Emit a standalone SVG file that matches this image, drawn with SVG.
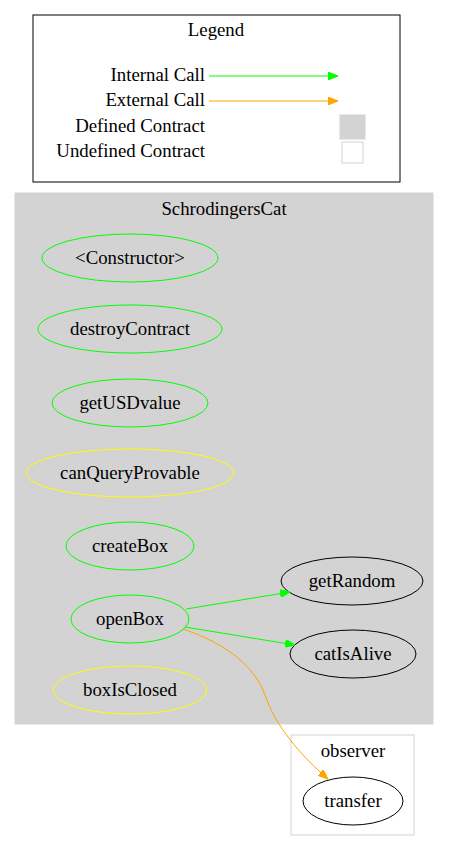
<svg xmlns="http://www.w3.org/2000/svg" width="450" height="852" viewBox="0 0 450 852">
<style>
text{font-family:"Times New Roman","Liberation Serif","DejaVu Serif",serif;font-size:18.8px;fill:#000}
.c{text-anchor:middle}
.r{text-anchor:end}
.g{fill:none;stroke:#00ff00;stroke-width:1}
.y{fill:none;stroke:#ffff00;stroke-width:1}
.b{fill:none;stroke:#000;stroke-width:1}
.eg{fill:none;stroke:#00ff00;stroke-width:1}
.eo{fill:none;stroke:#ffa500;stroke-width:1}
</style>
<defs>
<marker id="ag" markerWidth="10" markerHeight="8" refX="10" refY="4" orient="auto" markerUnits="userSpaceOnUse"><path d="M0,0 L10,4 L0,8 Z" fill="#00ff00" stroke="#00ff00"/></marker>
<marker id="ao" markerWidth="10" markerHeight="8" refX="10" refY="4" orient="auto" markerUnits="userSpaceOnUse"><path d="M0,0 L10,4 L0,8 Z" fill="#ffa500" stroke="#ffa500"/></marker>
</defs>
<rect width="450" height="852" fill="#fff"/>
<g id="legend">
<rect x="33" y="15" width="367" height="167" fill="#fff" stroke="#000"/>
<text class="c" x="216" y="36">Legend</text>
<text class="r" x="205" y="81">Internal Call</text>
<text class="r" x="205" y="106">External Call</text>
<text class="r" x="205" y="132">Defined Contract</text>
<text class="r" x="205" y="157">Undefined Contract</text>
<line x1="209" y1="76" x2="338" y2="76" stroke="#00ff00" marker-end="url(#ag)"/>
<line x1="209" y1="101" x2="338" y2="101" stroke="#ffa500" marker-end="url(#ao)"/>
<rect x="340" y="115" width="25" height="24" fill="#d3d3d3" stroke="#d3d3d3"/>
<rect x="342" y="142" width="21" height="21" fill="#fff" stroke="#d3d3d3"/>
</g>
<g id="cluster_SchrodingersCat">
<rect x="15" y="193" width="418" height="531" fill="#d3d3d3" stroke="#d3d3d3"/>
<text class="c" x="224" y="215">SchrodingersCat</text>
</g>
<g id="cluster_observer">
<rect x="291" y="735" width="123" height="100" fill="#fff" stroke="#d3d3d3"/>
<text class="c" x="353" y="757">observer</text>
</g>
<g id="n_constructor"><ellipse class="g" cx="130" cy="258" rx="88" ry="24"/><text class="c" x="130" y="264">&lt;Constructor&gt;</text></g>
<g id="n_destroyContract"><ellipse class="g" cx="130" cy="329" rx="92" ry="24"/><text class="c" x="130" y="335">destroyContract</text></g>
<g id="n_getUSDvalue"><ellipse class="g" cx="130" cy="403" rx="78" ry="24"/><text class="c" x="130" y="409">getUSDvalue</text></g>
<g id="n_canQueryProvable"><ellipse class="y" cx="130" cy="473" rx="104" ry="24"/><text class="c" x="130" y="479">canQueryProvable</text></g>
<g id="n_createBox"><ellipse class="g" cx="130" cy="546" rx="64" ry="24"/><text class="c" x="130" y="552">createBox</text></g>
<g id="n_openBox"><ellipse class="g" cx="130" cy="619" rx="59" ry="24"/><text class="c" x="130" y="625">openBox</text></g>
<g id="n_boxIsClosed"><ellipse class="y" cx="130" cy="690" rx="77" ry="24"/><text class="c" x="130" y="696">boxIsClosed</text></g>
<g id="n_getRandom"><ellipse class="b" cx="352" cy="581" rx="71" ry="24"/><text class="c" x="352" y="587">getRandom</text></g>
<g id="n_catIsAlive"><ellipse class="b" cx="353" cy="654" rx="63" ry="24"/><text class="c" x="353" y="660">catIsAlive</text></g>
<g id="n_transfer"><ellipse class="b" cx="353" cy="801" rx="50" ry="24"/><text class="c" x="353" y="807">transfer</text></g>
<g id="edges">
<path class="eg" d="M186,609 L290,592" marker-end="url(#ag)"/>
<path class="eg" d="M185,627 L295,645" marker-end="url(#ag)"/>
<path class="eo" d="M183,629 C230,645 255,668 265,695 C275,725 300,755 328,779" marker-end="url(#ao)"/>
</g>
</svg>
